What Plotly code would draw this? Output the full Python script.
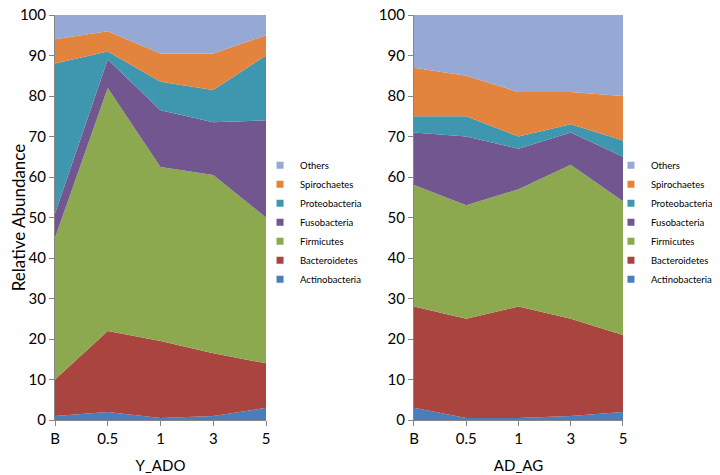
import plotly.graph_objects as go

# categories on the x axis
timepoints = ["B", "0.5", "1", "3", "5"]
phyla = ["Actinobacteria", "Bacteroidetes", "Firmicutes", "Fusobacteria",
         "Proteobacteria", "Spirochaetes", "Others"]
colors = ["#4a7ebb", "#a9443f", "#8ca94f", "#71568f", "#3e97ae", "#e2843d", "#95a9d4"]

# relative abundance (%) per phylum, group Y_ADO
y_ado_actino = [1, 2, 0.5, 1, 3]
y_ado_bact = [9, 20, 19, 15.5, 11]
y_ado_firm = [35, 60, 43, 44, 36]
y_ado_fuso = [6, 7, 14, 13, 24]
y_ado_proteo = [37, 2, 7, 8, 16]
y_ado_spiro = [6, 5, 7, 9, 5]
y_ado_others = [6, 4, 9.5, 9.5, 5]

# relative abundance (%) per phylum, group AD_AG
ad_ag_actino = [3, 0.5, 0.5, 1, 2]
ad_ag_bact = [25, 24.5, 27.5, 24, 19]
ad_ag_firm = [30, 28, 29, 38, 33]
ad_ag_fuso = [13, 17, 10, 8, 11]
ad_ag_proteo = [4, 5, 3, 2, 4]
ad_ag_spiro = [12, 10, 11, 8, 11]
ad_ag_others = [13, 15, 19, 19, 20]

groups = [
    ("Y_ADO", [y_ado_actino, y_ado_bact, y_ado_firm, y_ado_fuso,
               y_ado_proteo, y_ado_spiro, y_ado_others]),
    ("AD_AG", [ad_ag_actino, ad_ag_bact, ad_ag_firm, ad_ag_fuso,
               ad_ag_proteo, ad_ag_spiro, ad_ag_others]),
]

font = "Lato"
axis_color = "#868686"

fig = go.Figure()

for g, (name, series) in enumerate(groups):
    xa = "x" if g == 0 else "x2"
    ya = "y" if g == 0 else "y2"
    lg = "legend" if g == 0 else "legend2"
    for phylum, vals, col in zip(phyla, series, colors):
        fig.add_trace(go.Scatter(
            x=timepoints, y=vals, name=phylum, stackgroup="g%d" % g,
            mode="none", fillcolor=col, line=dict(width=0),
            xaxis=xa, yaxis=ya, showlegend=False, hoverinfo="x+y+name"))
        # small square legend markers
        fig.add_trace(go.Scatter(
            x=[None], y=[None], name=phylum, mode="markers",
            marker=dict(symbol="square", size=7, color=col),
            xaxis=xa, yaxis=ya, legend=lg, showlegend=True))

x_common = dict(type="category", range=[0, 4], showline=True, linecolor=axis_color,
                ticks="outside", ticklen=5, tickcolor=axis_color, showgrid=False,
                zeroline=False, automargin=False,
                tickfont=dict(size=15, color="#000000"),
                title_font=dict(size=15, color="#000000"), title_standoff=14)
y_common = dict(range=[0, 100], dtick=10, showline=True, linecolor=axis_color,
                ticks="outside", ticklen=5, tickcolor=axis_color, showgrid=False,
                zeroline=False, automargin=False, ticklabeloverflow="allow",
                tickfont=dict(size=15, color="#000000"))

leg_common = dict(traceorder="reversed", font=dict(size=9.5, color="#000000"),
                  bgcolor="rgba(0,0,0,0)", itemwidth=30, tracegroupgap=0,
                  yanchor="top", xanchor="left")

# the page body adds an 8px offset, so the figure is 16px smaller than the window
fig.update_layout(
    width=712, height=467,
    margin=dict(l=47, r=97, t=7, b=55, autoexpand=False),
    paper_bgcolor="white", plot_bgcolor="white",
    font=dict(family=font, color="#000000"),
    xaxis=dict(domain=[0, 0.3715], anchor="y", title_text="Y_ADO", **x_common),
    yaxis=dict(domain=[0, 1], anchor="x",
               title=dict(text="Relative Abundance", font=dict(size=17), standoff=10),
               **y_common),
    xaxis2=dict(domain=[0.632, 1], anchor="y2", title_text="AD_AG", **x_common),
    yaxis2=dict(domain=[0, 1], anchor="x2", **y_common),
    legend=dict(x=0.361, y=0.6646, **leg_common),
    legend2=dict(x=0.9788, y=0.6646, **leg_common),
    showlegend=True,
)

fig.write_html("out.html")
